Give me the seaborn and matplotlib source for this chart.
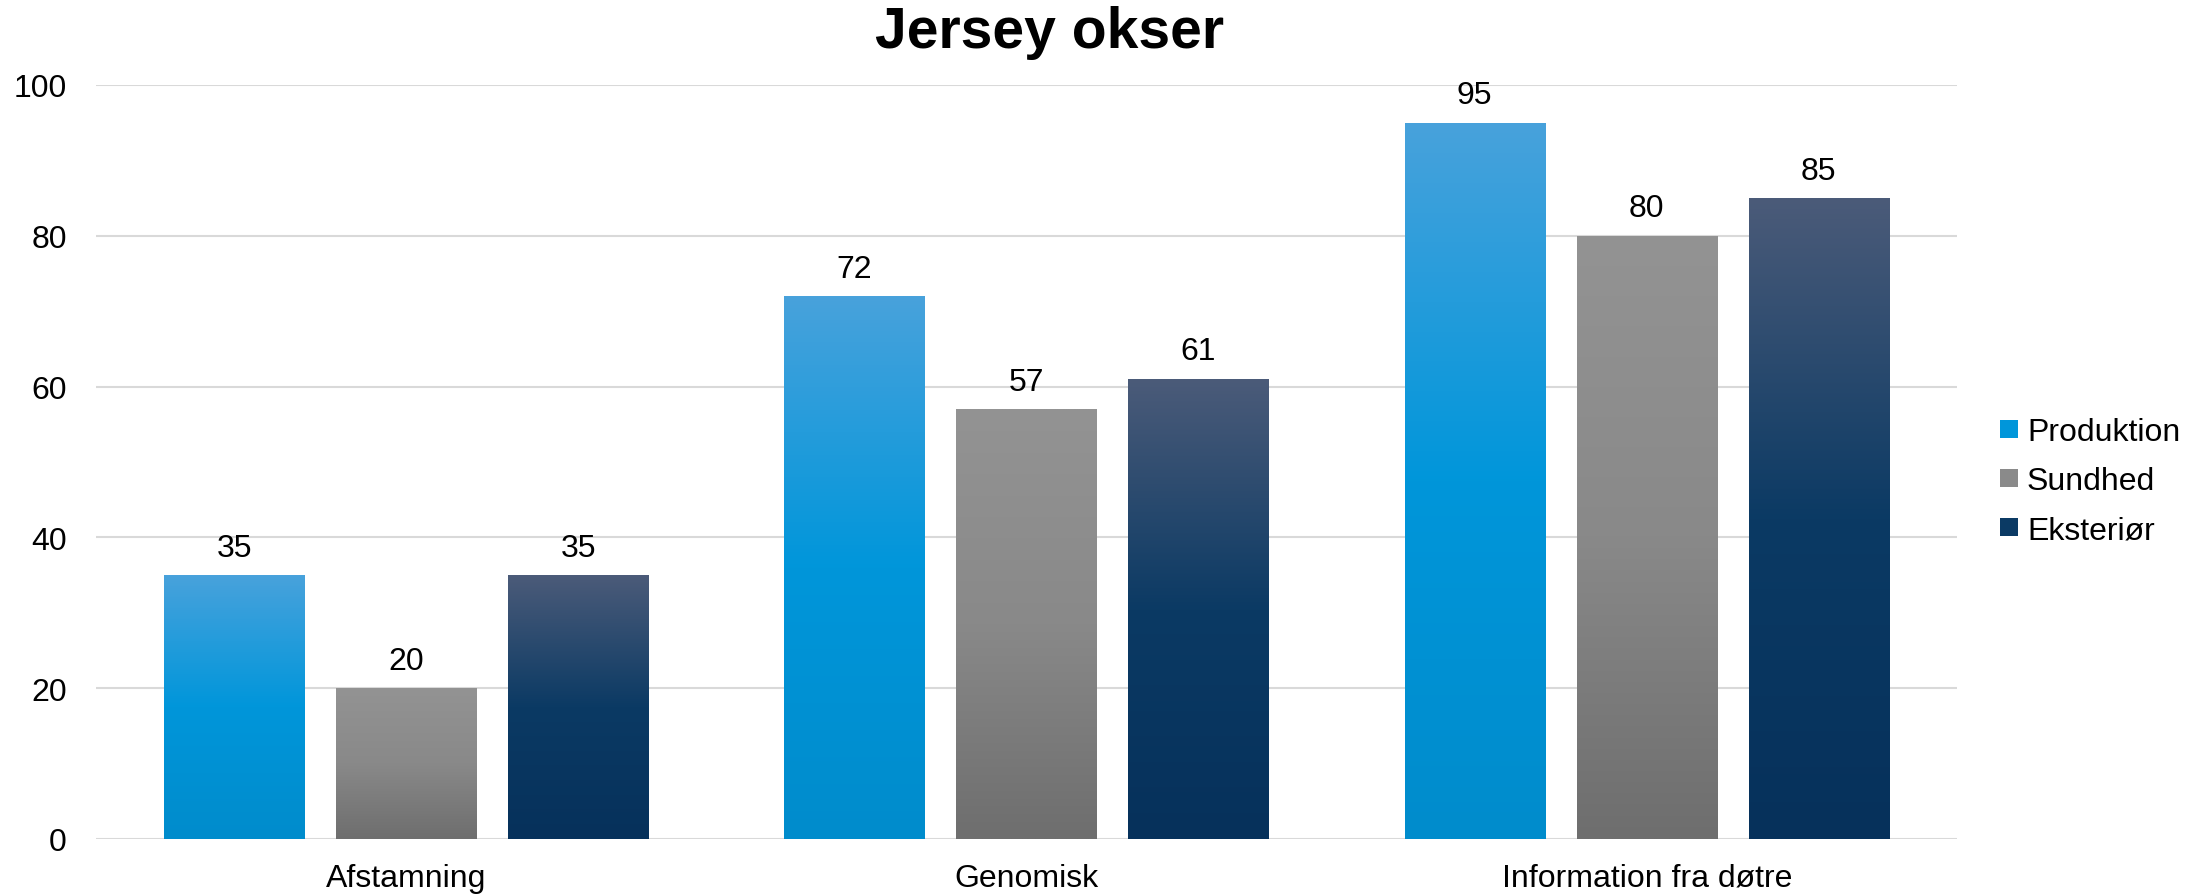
import numpy as np
import pandas as pd
import matplotlib
matplotlib.use("Agg")
import matplotlib.pyplot as plt
import seaborn as sns
from matplotlib.colors import LinearSegmentedColormap
from matplotlib.lines import Line2D

categories = ["Afstamning", "Genomisk", "Information fra døtre"]
series = ["Produktion", "Sundhed", "Eksteriør"]
produktion = [35, 72, 95]
sundhed = [20, 57, 80]
eksterior = [35, 61, 85]
yticks = [0, 20, 40, 60, 80, 100]

df = pd.DataFrame({
    "kategori": categories * 3,
    "serie": [series[0]] * 3 + [series[1]] * 3 + [series[2]] * 3,
    "værdi": produktion + sundhed + eksterior,
})

mid_colors = {"Produktion": "#0096DA", "Sundhed": "#8A8A8A", "Eksteriør": "#0B3A64"}
grad_stops = {
    "Produktion": ["#48A2DC", "#0096DA", "#008CCC"],
    "Sundhed": ["#939393", "#898989", "#6E6E6E"],
    "Eksteriør": ["#4B5B79", "#0B3A64", "#06315B"],
}

sns.set_theme(style="white")
plt.rcParams["font.family"] = ["Liberation Sans", "DejaVu Sans"]
plt.rcParams["text.color"] = "black"
plt.rcParams["axes.labelcolor"] = "black"

fig = plt.figure(figsize=(22.05, 8.95), dpi=100)
ax = fig.add_axes([0.0435, 0.0615, 0.844, 0.8425])

sns.barplot(data=df, x="kategori", y="værdi", hue="serie", order=categories,
            hue_order=series, palette=mid_colors, width=0.832, gap=0.186,
            ax=ax, legend=False, saturation=1, linewidth=0, edgecolor="none")

ax.set_ylim(0, 100)
ax.set_yticks(yticks)
ax.set_xlim(-0.5, 2.5)

# gradient overlay per bar
for container, name in zip(ax.containers, series):
    cmap = LinearSegmentedColormap.from_list(name, grad_stops[name][::-1])
    grad = np.linspace(0, 1, 256).reshape(-1, 1)
    for patch in container.patches:
        x0, y0 = patch.get_x(), patch.get_y()
        w, h = patch.get_width(), patch.get_height()
        im = ax.imshow(grad, cmap=cmap, origin="lower", aspect="auto",
                       extent=[x0, x0 + w, y0, y0 + h], zorder=patch.get_zorder() + 0.1,
                       interpolation="bilinear")
        im.set_clip_path(patch)
    ax.bar_label(container, labels=[f"{v:.0f}" for v in container.datavalues],
                 padding=9, fontsize=23, color="black")

ax.set_xlim(-0.5, 2.5)
ax.set_ylim(0, 100)

ax.yaxis.grid(True, color="#D9D9D9", linewidth=1.5)
ax.set_axisbelow(True)
for s in ax.spines.values():
    s.set_visible(False)
ax.tick_params(axis="both", length=0, labelsize=23, colors="black")
ax.tick_params(axis="y", pad=21)
ax.tick_params(axis="x", pad=17)
ax.set_xlabel("")
ax.set_ylabel("")

fig.suptitle("Jersey okser", x=0.476, y=0.993, fontsize=41, fontweight="bold",
             va="top", color="black")

handles = [Line2D([0], [0], marker="s", linestyle="", markersize=13,
                  markerfacecolor=mid_colors[s], markeredgewidth=0) for s in series]
fig.legend(handles, series, loc="center left", bbox_to_anchor=(0.891, 0.461),
           frameon=False, fontsize=23, handletextpad=0.05, labelspacing=0.6,
           handlelength=1.0, labelcolor="black")

fig.savefig("out.png", dpi=100)
